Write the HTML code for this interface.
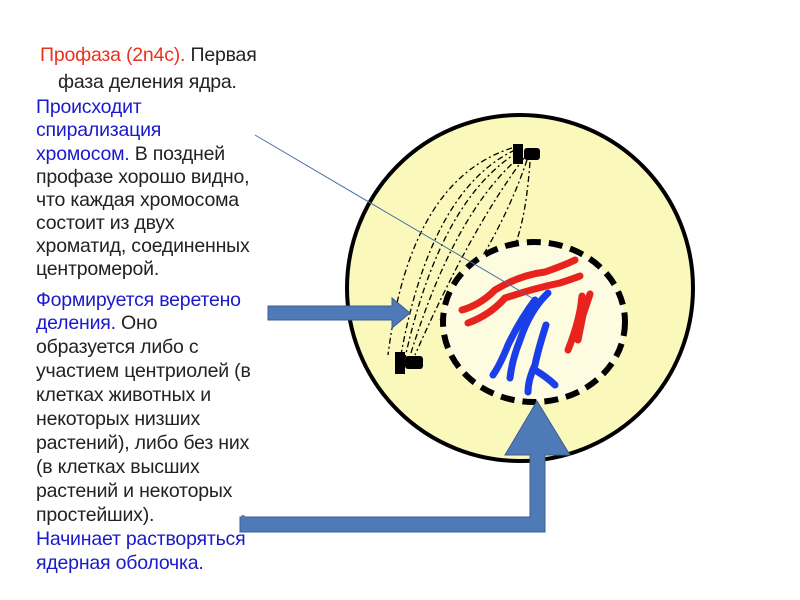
<!DOCTYPE html>
<html><head><meta charset="utf-8"><style>
body{margin:0;width:800px;height:600px;background:#fff;position:relative;overflow:hidden;font-family:"Liberation Sans",sans-serif;}
.t{position:absolute;left:36px;font-size:19.5px;line-height:22px;color:#222;white-space:nowrap;letter-spacing:-0.2px}
.b{color:#1a1acc}.r{color:#e8331c}
svg{position:absolute;left:0;top:0}
</style></head><body>
<svg width="800" height="600">
<ellipse cx="520" cy="288" rx="173" ry="173" fill="#fbf8bc" stroke="#000" stroke-width="4"/>
<g fill="none" stroke="#000" stroke-width="1.3" stroke-dasharray="6 3 2 3">
<path d="M515 150 Q430 190 400 360"/><path d="M518 152 Q440 200 405 358"/><path d="M522 155 Q455 210 410 356"/>
<path d="M524 158 Q470 230 415 355"/><path d="M527 160 Q500 240 440 320"/><path d="M512 148 Q410 180 388 355"/>
<path d="M530 162 Q525 230 510 255"/>
</g>
<ellipse cx="534" cy="322" rx="91" ry="80" fill="#fdfbe0" stroke="#000" stroke-width="6" stroke-dasharray="14 8"/>
<rect x="513" y="144" width="10" height="20" fill="#000"/><rect x="524" y="148" width="16" height="12" rx="3" fill="#000"/>
<rect x="395" y="352" width="10" height="22" fill="#000"/><rect x="405" y="356" width="18" height="13" rx="3" fill="#000"/>
<g fill="none" stroke="#e8221c" stroke-width="7" stroke-linecap="round">
<path d="M462 310 Q480 305 495 290 Q520 275 545 272 Q565 265 575 260"/><path d="M468 323 Q490 315 505 298 Q535 288 560 283 Q575 278 580 276"/>
<path d="M590 294 L583 315 L578 340"/><path d="M582 296 Q580 320 568 350"/>
</g>
<g fill="none" stroke="#1a3ee8" stroke-width="7" stroke-linecap="round">
<path d="M548 293 Q530 310 520 340 Q512 360 510 378"/><path d="M535 300 Q520 320 508 345 Q500 365 493 375"/>
<path d="M546 325 Q538 350 535 365 Q528 380 528 392"/><path d="M535 370 Q548 378 555 385"/>
</g>
<line x1="255" y1="135" x2="532" y2="298" stroke="#4a6fa5" stroke-width="1"/>
<g fill="#4f7ab8" stroke="#3a5f94" stroke-width="1">
<polygon points="268,306 392,306 392,298 410,313 392,328 392,320 268,320"/>
<polygon points="240,517 530,517 530,455 505,455 537,401 570,455 545,455 545,532 240,532"/>
</g>
<circle cx="243" cy="517" r="2" fill="#4f7ab8"/>
</svg>
<div class="t" style="top:44px;left:40px"><span class="r">Профаза (2n4c).</span> Первая</div>
<div class="t" style="top:71px;left:58px">фаза деления ядра.</div>
<div class="t b" style="top:96px">Происходит</div>
<div class="t b" style="top:119px">спирализация</div>
<div class="t" style="top:143px"><span class="b">хромосом.</span> В поздней</div>
<div class="t" style="top:166px">профазе хорошо видно,</div>
<div class="t" style="top:189px">что каждая хромосома</div>
<div class="t" style="top:212px">состоит из двух</div>
<div class="t" style="top:235px">хроматид, соединенных</div>
<div class="t" style="top:258px">центромерой.</div>
<div class="t b" style="top:289px">Формируется веретено</div>
<div class="t" style="top:312px"><span class="b">деления.</span> Оно</div>
<div class="t" style="top:336px">образуется либо с</div>
<div class="t" style="top:360px">участием центриолей (в</div>
<div class="t" style="top:384px">клетках животных и</div>
<div class="t" style="top:408px">некоторых низших</div>
<div class="t" style="top:432px">растений), либо без них</div>
<div class="t" style="top:456px">(в клетках высших</div>
<div class="t" style="top:480px">растений и некоторых</div>
<div class="t" style="top:504px">простейших).</div>
<div class="t b" style="top:528px">Начинает растворяться</div>
<div class="t b" style="top:552px">ядерная оболочка.</div>
</body></html>
